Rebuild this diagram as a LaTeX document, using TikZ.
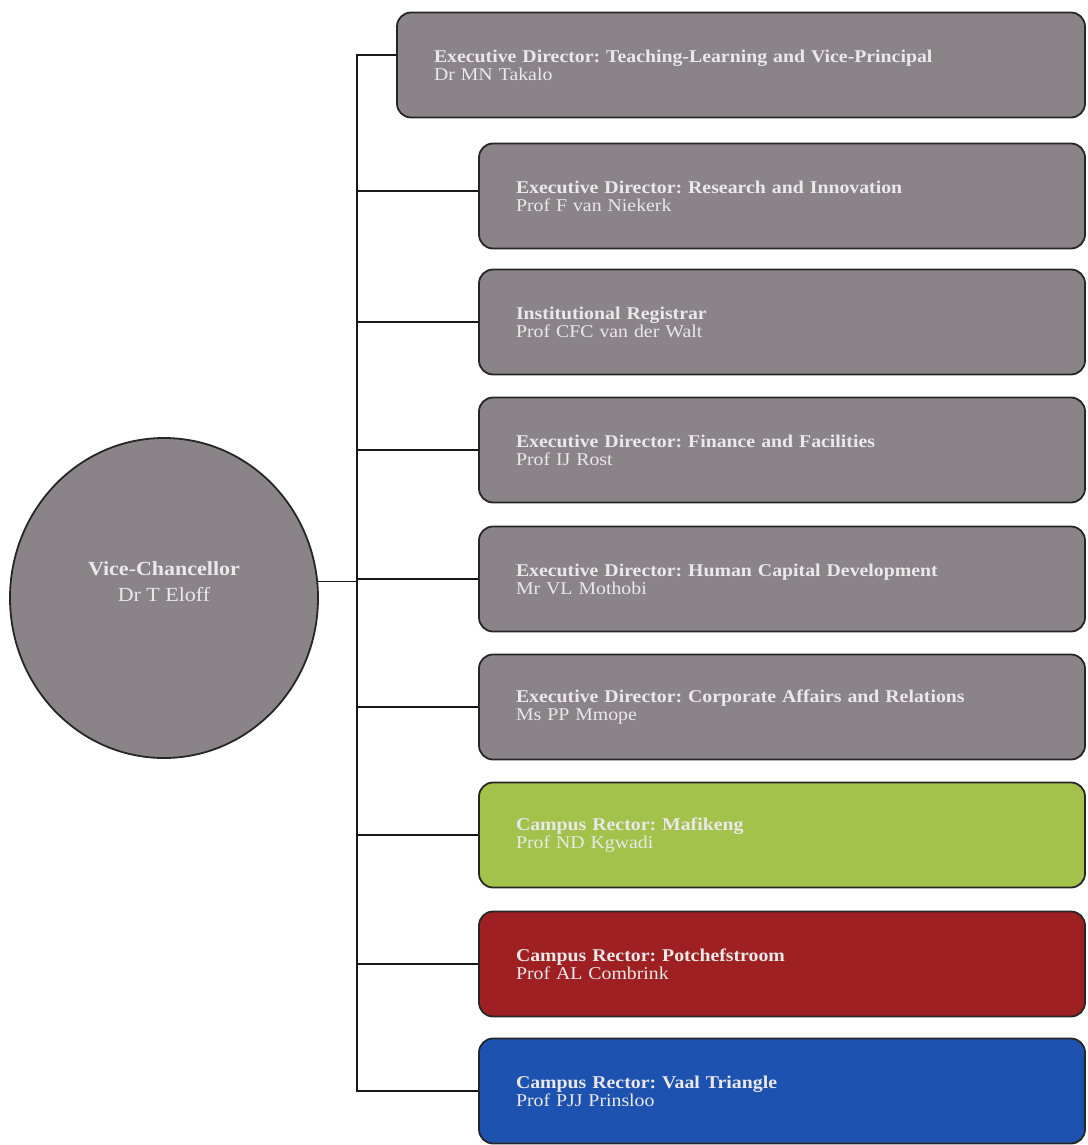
\documentclass[tikz,border=0pt]{standalone}
\usepackage{fontspec}
\setmainfont{Liberation Serif}[FakeStretch=1.1]
\usetikzlibrary{shapes.geometric}
\definecolor{boxgray}{HTML}{8A8488}
\definecolor{boxgreen}{HTML}{A3C24C}
\definecolor{boxred}{HTML}{9E2022}
\definecolor{boxblue}{HTML}{1D52B0}
\definecolor{lettering}{HTML}{EAE8E8}
\frenchspacing

\begin{document}
\begin{tikzpicture}[x=1pt,y=-1pt]
\tikzstyle{post}=[draw=black!85, line width=1.8pt, rounded corners=14pt, minimum height=105pt, inner xsep=37pt, inner ysep=0pt, text width=532pt, align=left, text=lettering, font=\fontsize{18}{18}\selectfont]
\tikzstyle{wire}=[black!90, line width=1.2pt]
\useasboundingbox (0,0) rectangle (1087,1145);
\node [draw=black!85, line width=1.8pt, fill=boxgray, ellipse, minimum width=308pt, minimum height=320pt] (vc) at (164,598) {};
\node [align=center, text=lettering, font=\fontsize{20}{26}\selectfont] (vcname) at (164,582) {\textbf{Vice-Chancellor}\\Dr T Eloff};
\node [post, fill=boxgray, text width=614pt] (d1) at (741,65) {\textbf{Executive Director: Teaching-Learning and Vice-Principal}\\Dr MN Takalo};
\node [post, fill=boxgray] (d2) at (782,196) {\textbf{Executive Director: Research and Innovation}\\Prof F van Niekerk};
\node [post, fill=boxgray] (d3) at (782,322) {\textbf{Institutional Registrar}\\Prof CFC van der Walt};
\node [post, fill=boxgray] (d4) at (782,450) {\textbf{Executive Director: Finance and Facilities}\\Prof IJ Rost};
\node [post, fill=boxgray] (d5) at (782,579) {\textbf{Executive Director: Human Capital Development}\\Mr VL Mothobi};
\node [post, fill=boxgray] (d6) at (782,707) {\textbf{Executive Director: Corporate Affairs and Relations}\\Ms PP Mmope};
\node [post, fill=boxgreen] (d7) at (782,835) {\textbf{Campus Rector: Mafikeng}\\Prof ND Kgwadi};
\node [post, fill=boxred] (d8) at (782,964) {\textbf{Campus Rector: Potchefstroom}\\Prof AL Combrink};
\node [post, fill=boxblue] (d9) at (782,1091) {\textbf{Campus Rector: Vaal Triangle}\\Prof PJJ Prinsloo};
\coordinate (trunk) at (357,0);
\draw [wire] ([yshift=10pt]d1.west) -- ([yshift=10pt]d1.west -| trunk) -- (d9.west -| trunk) -- (d9.west);
\draw [wire] ([yshift=5pt]d2.west -| trunk) -- ([yshift=5pt]d2.west);
\draw [wire] (d3.west -| trunk) -- (d3.west);
\draw [wire] (d4.west -| trunk) -- (d4.west);
\draw [wire] (d5.west -| trunk) -- (d5.west);
\draw [wire] (d6.west -| trunk) -- (d6.west);
\draw [wire] (d7.west -| trunk) -- (d7.west);
\draw [wire] (d8.west -| trunk) -- (d8.west);
\draw [wire] (vc.6) -- (vc.6 -| trunk);
\end{tikzpicture}
\end{document}
